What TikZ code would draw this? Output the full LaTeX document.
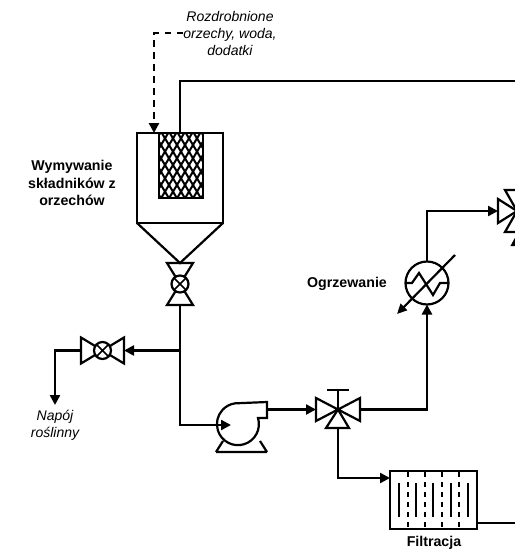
\documentclass[tikz,border=0pt]{standalone}
\usepackage{fontspec}
\setmainfont{Liberation Sans}
\usetikzlibrary{positioning,calc,arrows.meta}
\definecolor{pipeLine}{HTML}{000000}
\tikzset{
  pipe/.style={line width=2.4pt, color=pipeLine, line join=miter},
  pipe arrow/.style={pipe, -{Triangle[length=10pt, width=10pt]}},
  feed arrow/.style={pipe arrow, line width=2.7pt, dash pattern=on 6.5pt off 5.5pt},
  unit/.style={draw=pipeLine, line width=2.2pt, inner sep=0pt, outer sep=0pt},
  valve box/.style={inner sep=0pt, outer sep=0pt, minimum width=#1},
  valve ball/.style={unit, circle, minimum size=17pt},
  stream label/.style={font=\fontsize{14}{17}\selectfont\itshape, align=center},
  unit label/.style={font=\fontsize{14.2}{17.5}\selectfont\bfseries, align=center},
}
\begin{document}
\begin{tikzpicture}[x=1pt, y=-1pt]
\useasboundingbox (0,0) rectangle (515,550);
\clip (0,0) rectangle (515,550);

% --- LABELS ---
\node[stream label] (feed) at (230,33.5) {Rozdrobnione\\orzechy, woda,\\dodatki};
\node[stream label] (drink) at (55,425) {Napój\\roślinny};
\node[unit label] (extract) at (72,183) {Wymywanie\\składników z\\orzechów};
\node[unit label] (heatlabel) at (347,284) {Ogrzewanie};
\node[unit label] (filterlabel) at (434,543) {Filtracja};

% --- EXTRACTION VESSEL ---
\node[unit, minimum width=86pt, minimum height=90pt] (vessel) at (180,178) {};
\node[unit, minimum width=44pt, minimum height=65pt] (packing) at (181,165.5) {};
\begin{scope}
  \clip (packing.north west) rectangle (packing.south east);
  \foreach \i in {-12,...,12} {
    \draw[line width=2pt] (181+\i*8,125) -- ++(48,80);
    \draw[line width=2pt] (181+\i*8,125) -- ++(-48,80);
  }
\end{scope}
\draw[unit] (packing.north west) rectangle (packing.south east);

% --- VALVES ---
\node[valve box=26pt, minimum height=42pt] (bottomvalve) at (180,284) {};
\draw[unit, fill=white] (bottomvalve.north west) -- (bottomvalve.north east)
  -- (bottomvalve.south west) -- (bottomvalve.south east) -- cycle;
\node[valve ball, fill=white] (bottomball) at (bottomvalve.center) {};
\draw[unit, line width=1.6pt] (bottomball.north west) -- (bottomball.south east)
  (bottomball.north east) -- (bottomball.south west);
% cone below the vessel, down to the valve
\draw[unit] (vessel.south west) -- (bottomvalve.north) -- (vessel.south east);

\node[valve box=43pt, minimum height=26pt] (drinkvalve) at (102.5,350.5) {};
\draw[unit, fill=white] (drinkvalve.north west) -- (drinkvalve.south east)
  -- (drinkvalve.north east) -- (drinkvalve.south west) -- cycle;
\node[valve ball, fill=white] (drinkball) at (drinkvalve.center) {};
\draw[unit, line width=1.6pt] (drinkball.north west) -- (drinkball.south east)
  (drinkball.north east) -- (drinkball.south west);

% three way valve: west, east and south wings, stem on top
\node[valve box=44pt, minimum height=38pt] (midvalve) at (338,409.5) {};
\draw[unit] (316,398) -- (316,421) -- (360,398) -- (360,421) -- cycle;
\draw[unit] (326,428) -- (349,428) -- (338,409.5) -- cycle;
\draw[unit] (338,409.5) -- (338,390) (327,390) -- (349,390);

\node[valve box=38pt, minimum height=42pt] (topvalve) at (517,211) {};
\draw[unit] (498,199) -- (498,223) -- (517,211) -- cycle;
\draw[unit] (505,190) -- (529,190) -- (517,211) -- cycle;
\draw[unit] (505,232) -- (529,232) -- (517,211) -- cycle;

% --- PUMP ---
\draw[unit] (216,452) -- (223,441) (260,441) -- (267,452)  (216,452) -- (267,452);
\draw[unit, fill=white] (258,418) arc[start angle=-17, end angle=262, radius=21]
  -- (267,402) -- (267,418) -- cycle;
\coordinate (pumpin) at (231,425);
\coordinate (pumpout) at (267,409.5);

% --- HEATER ---
\node[unit, circle, minimum size=43pt] (heater) at (427,283) {};
\draw[unit] (heater.west) -- (412,283) -- (419,273) -- (433,295) -- (440,283) -- (heater.east);
\draw[unit, -{Triangle[length=10pt, width=9pt]}] (455,255) -- (397,314);

% --- FILTER ---
\node[unit, minimum width=87pt, minimum height=58pt] (filter) at (433.5,500) {};
\foreach \x in {408,425,442,459}
  \draw[line width=2pt, dash pattern=on 5pt off 5pt] (\x,472) -- (\x,529);
\foreach \x in {399,416,433,451,468}
  \draw[line width=2pt] (\x,483) -- (\x,517);
\coordinate (filterout) at (477,523);

% --- PIPES ---
\coordinate (feedstart) at (183,33);
\coordinate (vesselfeed) at (154,133);
\coordinate (drinkend) at (55,405);
\coordinate (branch) at (180,350.5);
\coordinate (returnend) at (515,81);
\coordinate (railbot) at (515.8,523);
\draw[feed arrow] (feedstart) -- (154,33) -- (vesselfeed);
\draw[pipe] (vessel.north) -- (180,81) -- (returnend);
\draw[pipe arrow] (bottomvalve.south) -- (180,425) -- (pumpin);
\draw[pipe arrow] (branch) -- (drinkvalve.east);
\draw[pipe arrow] (drinkvalve.west) -- (55,350.5) -- (drinkend);
\draw[pipe arrow] (pumpout) -- (midvalve.west);
\draw[pipe arrow] (midvalve.east) -- (427,409.5) -- (heater.south);
\draw[pipe arrow] (heater.north) -- (427,211) -- (topvalve.west);
\draw[pipe arrow] (338,428) -- (338,478) -- (filter.west |- 0,478);
\draw[pipe] (filterout) -- (railbot);
\draw[pipe arrow] (railbot) -- (515.8,236);

\end{tikzpicture}
\end{document}
